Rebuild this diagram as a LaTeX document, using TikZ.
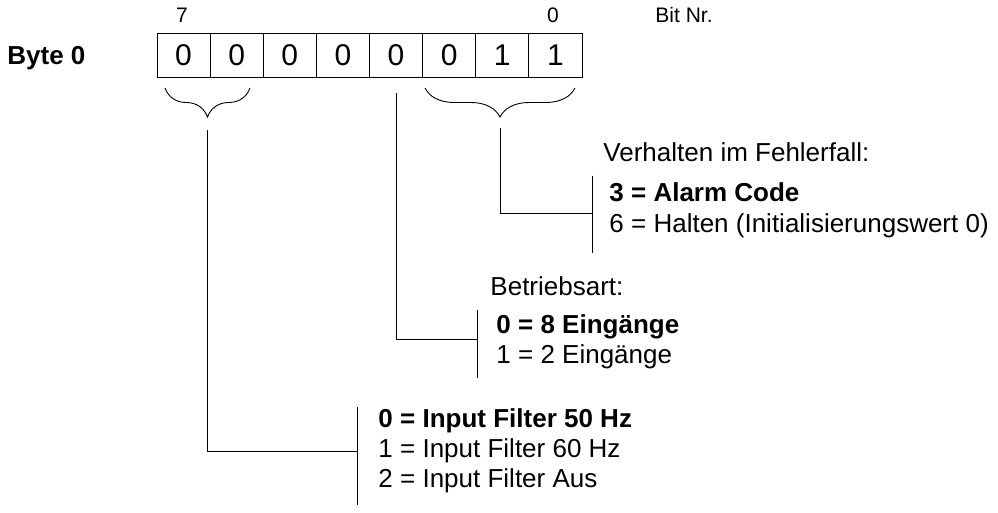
\documentclass[tikz,border=0pt]{standalone}
\usepackage{fontspec}
\setmainfont{Liberation Sans}
\usepackage{tikz}
\usetikzlibrary{calc,decorations.pathreplacing}

\begin{document}
\begin{tikzpicture}[x=1pt,y=-1pt,line width=0.9pt,
  bitcell/.style={draw,minimum width=53.125pt,minimum height=44pt,inner sep=0pt,font=\fontsize{30}{30}\selectfont},
  lbl/.style={anchor=base west,inner sep=0pt,font=\fontsize{26}{30}\selectfont},
  lblb/.style={lbl,font=\fontsize{26}{30}\selectfont\bfseries},
  bitno/.style={anchor=base,inner sep=0pt,font=\fontsize{21}{24}\selectfont},
  grp/.style={decorate,decoration={brace,mirror,amplitude=29pt}}]
  \useasboundingbox (0,0) rectangle (998,513);
  % byte with its bits
  \node[lblb] (byte) at (7,65) {Byte 0};
  \foreach \v [count=\i from 0] in {0,0,0,0,0,0,1,1}
    \node[bitcell] (c\i) at ({157+53.125*(\i+0.5)},55) {\v};
  \node[bitno] (b7) at (182,23) {7};
  \node[bitno] (b0) at (553,23) {0};
  \node[bitno,anchor=base west] (bitnr) at (655,23) {Bit Nr.};
  \draw[grp] (165,88) -- (250,88);
  \draw[grp] (425,88) -- (575,88);
  % fault behaviour (bits 1,0)
  \node[lbl] (fhead) at (603,162) {Verhalten im Fehlerfall:};
  \node[lblb] (f3) at (609,202) {3 = Alarm Code};
  \node[lbl] (f6) at (609,233) {6 = Halten (Initialisierungswert 0)};
  \coordinate (ftip) at (500,128);
  \coordinate (ftop) at (592,176);
  \coordinate (fbot) at (592,253);
  \draw (ftop) -- (fbot);
  \draw (ftip) |- ($(ftop)!0.49!(fbot)$);
  % operating mode (bit 3)
  \node[lbl] (mhead) at (490,295) {Betriebsart:};
  \node[lblb] (m0) at (496,333) {0 = 8 Eing\"ange};
  \node[lbl] (m1) at (496,363) {1 = 2 Eing\"ange};
  \coordinate (mtip) at (396.5,93);
  \coordinate (mtop) at (477,310);
  \coordinate (mbot) at (477,378);
  \draw (mtop) -- (mbot);
  \draw (mtip) |- ($(mtop)!0.44!(mbot)$);
  % input filter (bits 7,6)
  \node[lblb] (i0) at (378,427) {0 = Input Filter 50 Hz};
  \node[lbl] (i1) at (378,457) {1 = Input Filter 60 Hz};
  \node[lbl] (i2) at (378,487) {2 = Input Filter Aus};
  \coordinate (itip) at (207.5,130);
  \coordinate (itop) at (357,407);
  \coordinate (ibot) at (357,505);
  \draw (itop) -- (ibot);
  \draw (itip) |- ($(itop)!0.45!(ibot)$);
\end{tikzpicture}
\end{document}
